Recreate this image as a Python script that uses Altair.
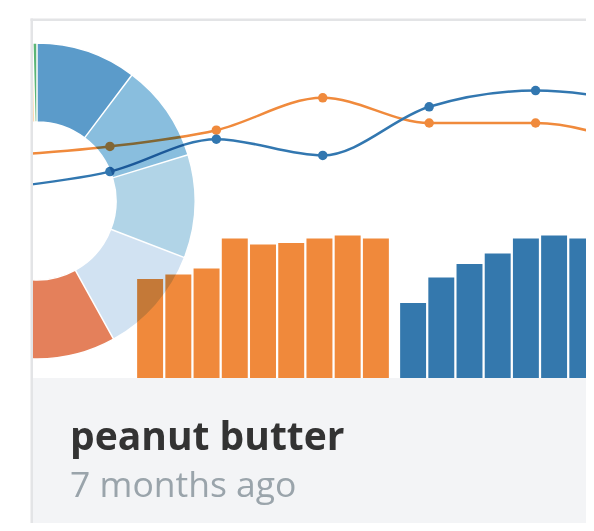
import altair as alt
import pandas as pd

# ---- data ----
line_steps = [0, 1, 2, 3, 4, 5, 6]
orange_line = [47, 52, 61, 79, 65, 65, 51]
blue_line = [29, 38, 56, 47, 74, 83, 76]

orange_bar_labels = ["o1", "o2", "o3", "o4", "o5", "o6", "o7", "o8", "o9"]
orange_bars = [66, 69, 73, 93, 89, 90, 93, 95, 93]
blue_bar_labels = ["b1", "b2", "b3", "b4", "b5", "b6", "b7"]
blue_bars = [50, 67, 76, 83, 93, 95, 93]

slice_labels = ["s1", "s2", "s3", "s4", "s5", "s6", "s7", "s8", "s9"]
slice_values = [37, 36, 38, 40, 60, 50, 50, 47.5, 1.5]
slice_colors = ["#3182bd", "#6baed6", "#9ecae1", "#c6dbef", "#dd6031",
                "#fd8d3c", "#fdae6b", "#fdd0a2", "#31a354"]

title_text = ["peanut butter"]
subtitle_text = ["7 months ago"]

# ---- styling ----
W, H = 553, 502
ORANGE = "#f08a3c"
BLUE = "#3277b0"
ORANGE_BAR = "#f0893b"
BLUE_BAR = "#3478ad"
BORDER = "#e3e4e6"

lines_df = pd.DataFrame({
    "step": line_steps * 2,
    "value": orange_line + blue_line,
    "series": ["orange"] * len(orange_line) + ["blue"] * len(blue_line),
})
orange_df = pd.DataFrame({"bar": orange_bar_labels, "value": orange_bars})
blue_df = pd.DataFrame({"bar": blue_bar_labels, "value": blue_bars})
slice_df = pd.DataFrame({"slice": slice_labels, "value": slice_values,
                         "idx": list(range(len(slice_labels)))})
one = pd.DataFrame({"a": [0]})

x_line = alt.X("step:Q", scale=alt.Scale(domain=[0, 6], range=[-29.5, 609]), axis=None)
y_line = alt.Y("value:Q", scale=alt.Scale(domain=[0, 100], range=[219, 39]), axis=None)
c_line = alt.Color("series:N", scale=alt.Scale(domain=["orange", "blue"], range=[ORANGE, BLUE]), legend=None)

footer = alt.Chart(one).mark_rect(color="#f3f4f6").encode(
    x=alt.value(0), x2=alt.value(W), y=alt.value(357), y2=alt.value(H))

lines = alt.Chart(lines_df).mark_line(interpolate="monotone", strokeWidth=2.5).encode(
    x=x_line, y=y_line, color=c_line)
points = alt.Chart(lines_df).mark_point(filled=True, size=90, opacity=1).encode(
    x=x_line, y=y_line, color=c_line)

y_bar = alt.Y("value:Q", scale=alt.Scale(domain=[0, 100], range=[357, 207]), axis=None)
obars = alt.Chart(orange_df).mark_bar(color=ORANGE_BAR).encode(
    x=alt.X("bar:N", sort=None, axis=None,
            scale=alt.Scale(domain=orange_bar_labels, range=[103, 357], paddingInner=0.08, paddingOuter=0.04)),
    y=y_bar)
bbars = alt.Chart(blue_df).mark_bar(color=BLUE_BAR).encode(
    x=alt.X("bar:N", sort=None, axis=None,
            scale=alt.Scale(domain=blue_bar_labels, range=[366, 563.4], paddingInner=0.08, paddingOuter=0.04)),
    y=y_bar)

donut = alt.Chart(slice_df).mark_arc(innerRadius=79, outerRadius=158, opacity=0.8, blend="multiply",
                                     stroke="white", strokeWidth=1.5).encode(
    theta=alt.Theta("value:Q", stack=True),
    color=alt.Color("slice:N", scale=alt.Scale(domain=slice_labels, range=slice_colors), legend=None),
    order=alt.Order("idx:Q"),
    x=alt.value(4), y=alt.value(180))

# white margin to the left of the card (hides what lies outside the card)
mask = alt.Chart(one).mark_rect(color="white").encode(
    x=alt.value(-30), x2=alt.value(0), y=alt.value(-20), y2=alt.value(H))

border_left = alt.Chart(one).mark_rule(color=BORDER, strokeWidth=2.5).encode(
    x=alt.value(-1.25), y=alt.value(-2.5), y2=alt.value(H))
border_top = alt.Chart(one).mark_rule(color=BORDER, strokeWidth=2.5).encode(
    y=alt.value(-1.25), x=alt.value(-2.5), x2=alt.value(W))

title = alt.Chart(pd.DataFrame({"t": title_text})).mark_text(
    align="left", baseline="alphabetic", font="Open Sans", fontSize=39, fontWeight=700,
    color="#333333").encode(x=alt.value(37), y=alt.value(429), text="t:N")
subtitle = alt.Chart(pd.DataFrame({"t": subtitle_text})).mark_text(
    align="left", baseline="alphabetic", font="Open Sans", fontSize=35.5, fontWeight=400,
    color="#9aa4ab").encode(x=alt.value(37), y=alt.value(476), text="t:N")

chart = alt.layer(footer, lines, points, obars, bbars, donut, mask, border_left, border_top,
                  title, subtitle).resolve_scale(
    x="independent", y="independent", color="independent", theta="independent"
).properties(
    width=W, height=H,
    padding={"left": 25, "top": 13, "right": 0, "bottom": 0},
    autosize=alt.AutoSizeParams(type="none"),
    background="white",
).configure_view(stroke=None)

chart.save("out.html", embed_options={"renderer": "svg", "actions": False})
